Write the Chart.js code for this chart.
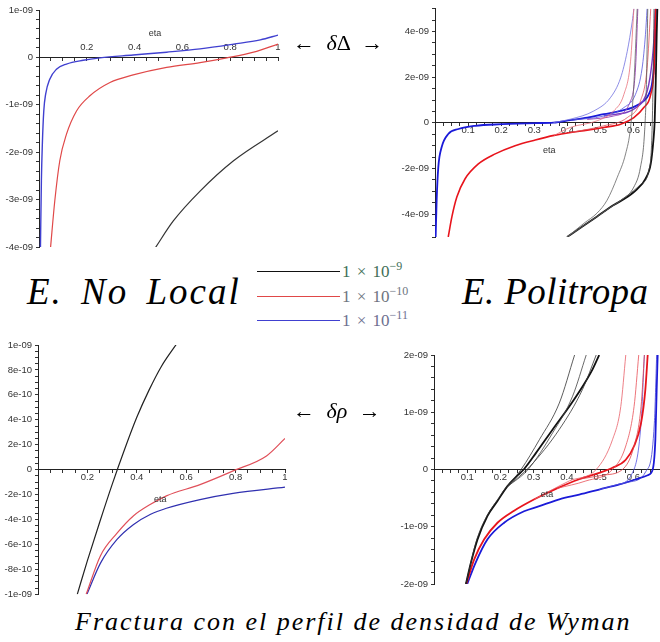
<!DOCTYPE html>
<html>
<head>
<meta charset="utf-8">
<script src="https://cdn.jsdelivr.net/npm/chart.js@4.4.1/dist/chart.umd.min.js"></script>
<style>
body { margin: 0; background: #fff; }
#page { position: relative; width: 660px; height: 642px; overflow: hidden; background: #fff; }
#page canvas { position: absolute; }
.txt { position: absolute; white-space: nowrap; line-height: 1; font-family: "Liberation Serif", "DejaVu Serif", serif; color: #000; }
.big { font-size: 37px; font-style: italic; }
.arrow { font-size: 22px; word-spacing: 6px; }
.leg { font-size: 17px; word-spacing: 2px; }
.leg sup { position: relative; top: -0.55em; font-size: 12px; vertical-align: baseline; }
.swatch { position: absolute; height: 0; }
</style>
</head>
<body>
<div id="page">
  <canvas id="nlDelta" width="286" height="256" style="left:0;top:0"></canvas>
  <canvas id="polDelta" width="282" height="246" style="left:378px;top:0"></canvas>
  <canvas id="nlRho" width="290" height="268" style="left:0;top:335px"></canvas>
  <canvas id="polRho" width="282" height="248" style="left:378px;top:345px"></canvas>

  <div class="txt arrow" style="left:293px;top:32px">&larr; <i>&delta;</i>&Delta; &rarr;</div>
  <div class="txt arrow" style="left:293px;top:400px">&larr; <i>&delta;&rho;</i> &rarr;</div>

  <div class="txt big" style="left:27px;top:273px;letter-spacing:2px;word-spacing:7px">E. No Local</div>
  <div class="txt big" style="left:462px;top:273px;letter-spacing:0.4px">E. Politropa</div>

  <div class="swatch" style="left:257px;top:271px;width:83px;border-top:1px solid #111"></div>
  <div class="swatch" style="left:257px;top:296px;width:83px;border-top:1.5px solid #e04848"></div>
  <div class="swatch" style="left:257px;top:320px;width:83px;border-top:1.5px solid #4040d0"></div>
  <div class="txt leg" style="left:342px;top:263px;color:#3f6f58">1 &times; 10<sup>&minus;9</sup></div>
  <div class="txt leg" style="left:342px;top:288px;color:#6e7480">1 &times; 10<sup>&minus;10</sup></div>
  <div class="txt leg" style="left:342px;top:312px;color:#6e7090">1 &times; 10<sup>&minus;11</sup></div>

  <div class="txt" style="left:75px;top:609px;font-size:26px;font-style:italic;letter-spacing:2px">Fractura con el perfil de densidad de Wyman</div>
</div>
<script>
// all values in units of 1e-9, points are [eta, value]

// E. No Local, delta Delta
var nlDeltaBlack = [[0.485, -4.03], [0.562, -3.45], [0.674, -2.82], [0.814, -2.18], [1.0, -1.55]];
var nlDeltaRed = [[0.048, -4.03], [0.066, -3.03], [0.087, -2.18], [0.115, -1.62], [0.157, -1.13], [0.213, -0.81],
    [0.297, -0.53], [0.394, -0.37], [0.534, -0.21], [0.674, -0.11], [0.786, -0.01], [0.898, 0.11], [1.0, 0.28]];
var nlDeltaBlue = [[0.006, -4.03], [0.01, -2.6], [0.014, -1.83], [0.02, -1.13], [0.028, -0.77], [0.045, -0.46],
    [0.073, -0.25], [0.115, -0.14], [0.185, -0.06], [0.255, -0.01], [0.394, 0.05], [0.534, 0.11], [0.674, 0.18],
    [0.814, 0.28], [0.926, 0.37], [1.0, 0.47]];

// E. Politropa, delta Delta
var polDeltaBlack = [[0.399, -5.0], [0.44, -4.6], [0.49, -4.1], [0.54, -3.6], [0.581, -3.25], [0.611, -2.9],
    [0.636, -2.45], [0.652, -1.8], [0.66, -0.78], [0.664, 0.09], [0.667, 1.7], [0.67, 3.87], [0.672, 5.0]];
var polDeltaBlackThin1 = [[0.399, -5.0], [0.45, -4.4], [0.49, -3.95], [0.52, -3.39], [0.551, -2.38], [0.576, -1.36],
    [0.591, -0.2], [0.601, 1.68], [0.611, 5.0]];
var polDeltaBlackThin2 = [[0.399, -5.0], [0.47, -4.3], [0.53, -3.7], [0.561, -3.4], [0.601, -2.81], [0.621, -1.94],
    [0.633, -0.49], [0.639, 1.68], [0.643, 5.0]];
var polDeltaBlackThin3 = [[0.399, -5.0], [0.5, -4.0], [0.58, -3.2], [0.621, -2.7], [0.646, -2.1], [0.655, -0.78],
    [0.659, 1.68], [0.662, 5.0]];
var polDeltaRed = [[0.04, -5.0], [0.051, -4.12], [0.066, -3.25], [0.091, -2.45], [0.131, -1.8], [0.182, -1.36],
    [0.242, -1.0], [0.303, -0.75], [0.36, -0.55], [0.41, -0.42], [0.46, -0.32], [0.51, -0.2], [0.561, -0.06],
    [0.601, 0.23], [0.631, 0.67], [0.652, 1.25], [0.662, 2.4], [0.667, 5.0]];
var polDeltaRedThin1 = [[0.36, -0.55], [0.409, -0.2], [0.49, 0.09], [0.54, 0.52], [0.571, 1.25], [0.591, 2.7], [0.601, 5.0]];
var polDeltaRedThin2 = [[0.41, -0.42], [0.51, -0.13], [0.581, 0.23], [0.621, 0.96], [0.641, 2.4], [0.652, 5.0]];
var polDeltaBlue = [[0.002, -5.0], [0.005, -3.39], [0.01, -1.94], [0.02, -1.07], [0.04, -0.49], [0.071, -0.27],
    [0.121, -0.13], [0.202, -0.06], [0.303, -0.01], [0.358, 0.01], [0.409, 0.12], [0.46, 0.23], [0.51, 0.38],
    [0.561, 0.52], [0.601, 0.7], [0.631, 0.96], [0.646, 1.25], [0.657, 1.83], [0.664, 3.13], [0.667, 5.0]];
var polDeltaBlueThin1 = [[0.358, 0.01], [0.409, 0.16], [0.48, 0.52], [0.53, 1.1], [0.561, 1.97], [0.581, 3.13],
    [0.596, 4.43], [0.601, 5.0]];
var polDeltaBlueThin2 = [[0.409, 0.12], [0.51, 0.3], [0.571, 0.67], [0.606, 1.25], [0.626, 2.4], [0.636, 3.86], [0.641, 5.0]];
var polDeltaPurple1 = [[0.46, 0.15], [0.54, 0.3], [0.591, 0.96], [0.606, 2.4], [0.613, 5.0]];
var polDeltaPurple2 = [[0.51, 0.3], [0.621, 0.81], [0.646, 1.68], [0.659, 3.13], [0.667, 5.0]];

// E. No Local, delta rho
var nlRhoBlack = [[0.159, -1.0], [0.2, -0.73], [0.25, -0.42], [0.3, -0.12], [0.35, 0.16], [0.4, 0.42],
    [0.45, 0.64], [0.5, 0.83], [0.565, 1.02]];
var nlRhoRed = [[0.195, -1.0], [0.253, -0.69], [0.32, -0.51], [0.387, -0.37], [0.454, -0.28], [0.52, -0.21],
    [0.656, -0.12], [0.79, -0.01], [0.925, 0.11], [1.0, 0.25]];
var nlRhoBlue = [[0.198, -1.0], [0.253, -0.75], [0.32, -0.56], [0.387, -0.44], [0.454, -0.36], [0.52, -0.31],
    [0.656, -0.24], [0.79, -0.19], [1.0, -0.14]];

// E. Politropa, delta rho
var polRhoBlack = [[0.096, -2.0], [0.111, -1.63], [0.131, -1.22], [0.161, -0.81], [0.191, -0.55], [0.221, -0.29],
    [0.252, -0.1], [0.27, 0], [0.307, 0.29], [0.357, 0.7], [0.407, 1.1], [0.447, 1.45], [0.477, 1.75], [0.497, 2.0]];
var polRhoBlackThin1 = [[0.096, -2.0], [0.13, -1.2], [0.2, -0.45], [0.262, 0], [0.317, 0.52], [0.377, 1.16], [0.423, 2.0]];
var polRhoBlackThin2 = [[0.221, -0.3], [0.283, 0], [0.357, 0.64], [0.417, 1.28], [0.458, 2.0]];
var polRhoBlackThin3 = [[0.221, -0.3], [0.288, 0.05], [0.377, 0.7], [0.447, 1.4], [0.488, 2.0]];
var polRhoRed = [[0.097, -2.0], [0.121, -1.57], [0.151, -1.22], [0.191, -0.93], [0.241, -0.72], [0.302, -0.52],
    [0.37, -0.33], [0.437, -0.17], [0.497, -0.06], [0.537, 0.03], [0.577, 0.17], [0.602, 0.41], [0.623, 0.81],
    [0.636, 1.4], [0.643, 2.0]];
var polRhoRedThin1 = [[0.302, -0.52], [0.407, -0.2], [0.488, 0], [0.537, 0.52], [0.562, 1.1], [0.577, 2.0]];
var polRhoRedThin2 = [[0.37, -0.33], [0.457, -0.2], [0.537, 0], [0.577, 0.41], [0.602, 1.1], [0.616, 2.0]];
var polRhoRedThin3 = [[0.437, -0.17], [0.507, -0.1], [0.567, 0], [0.602, 0.41], [0.623, 1.1], [0.633, 2.0]];
var polRhoBlue = [[0.1, -2.0], [0.125, -1.63], [0.161, -1.22], [0.211, -0.93], [0.271, -0.73], [0.317, -0.64],
    [0.377, -0.52], [0.437, -0.44], [0.497, -0.35], [0.558, -0.26], [0.608, -0.17], [0.643, -0.1], [0.658, 0],
    [0.666, 0.52], [0.67, 1.4], [0.673, 2.0]];
var polRhoBlueThin1 = [[0.497, -0.35], [0.547, -0.27], [0.597, -0.06], [0.623, 0.81], [0.633, 2.0]];
var polRhoBlueThin2 = [[0.558, -0.26], [0.587, -0.22], [0.638, -0.03], [0.663, 0.81], [0.67, 2.0]];

function toXY(pairs) {
    return pairs.map(function (p) { return { x: p[0], y: p[1] }; });
}

function onStep(v, step) {
    var k = v / step;
    return Math.abs(k - Math.round(k)) < 1e-6;
}

// maple style: 1e-09, 8e-10, 0
function mapleLabel(v) {
    if (Math.abs(v) < 1e-9) return '0';
    return (v * 1e-9).toExponential(0).replace(/e-(\d)$/, 'e-0$1');
}

var etaLabel = {
    id: 'etaLabel',
    afterDraw: function (chart, args, opts) {
        var c = chart.ctx;
        c.save();
        c.font = '9px "Liberation Sans", Arial, sans-serif';
        c.fillStyle = '#333';
        c.textAlign = 'center';
        c.textBaseline = 'middle';
        c.fillText('eta', chart.scales.x.getPixelForValue(opts.x), chart.scales.y.getPixelForValue(opts.y));
        c.restore();
    }
};

function line(data, color, width) {
    return {
        data: toXY(data),
        borderColor: color,
        borderWidth: width,
        pointRadius: 0,
        fill: false,
        cubicInterpolationMode: 'monotone'
    };
}

function createPanel(canvasId, cfg) {
    var tickFont = { size: 9.5, family: '"Liberation Sans", Arial, sans-serif' };
    new Chart(document.getElementById(canvasId).getContext('2d'), {
        type: 'line',
        data: { datasets: cfg.lines },
        options: {
            responsive: false,
            animation: false,
            events: [],
            layout: { padding: cfg.padding },
            plugins: {
                legend: { display: false },
                tooltip: { enabled: false },
                etaLabel: cfg.eta
            },
            scales: {
                x: {
                    type: 'linear',
                    min: 0,
                    max: cfg.xMax,
                    position: { y: 0 },
                    grid: { drawOnChartArea: false, tickLength: 3, color: '#333' },
                    border: { color: '#222', width: 1 },
                    ticks: {
                        stepSize: cfg.xMinor,
                        autoSkip: false,
                        maxRotation: 0,
                        mirror: cfg.labelsAbove,
                        padding: cfg.labelsAbove ? -7 : -1,
                        color: '#333',
                        font: tickFont,
                        callback: function (v) {
                            if (v === 0 || !onStep(v, cfg.xMajor)) return '';
                            return String(Math.round(v * 10) / 10);
                        }
                    }
                },
                y: {
                    type: 'linear',
                    min: cfg.yMin,
                    max: cfg.yMax,
                    position: 'left',
                    afterFit: function (scale) { scale.width = cfg.yAxisWidth; },
                    grid: { drawOnChartArea: false, tickLength: 3, color: '#333' },
                    border: { color: '#222', width: 1 },
                    ticks: {
                        stepSize: cfg.yMinor,
                        autoSkip: false,
                        padding: 3,
                        color: '#333',
                        font: tickFont,
                        callback: function (v) {
                            return onStep(v, cfg.yMajor) ? mapleLabel(v) : '';
                        }
                    }
                }
            }
        },
        plugins: [etaLabel]
    });
}

document.addEventListener('DOMContentLoaded', function () {
    createPanel('nlDelta', {
        xMax: 1, xMinor: 0.05, xMajor: 0.2, labelsAbove: true,
        yMin: -4, yMax: 1, yMinor: 0.2, yMajor: 1, yAxisWidth: 39,
        padding: { top: 10, bottom: 9, right: 8, left: 0 },
        eta: { x: 0.485, y: 0.5 },
        lines: [
            line(nlDeltaBlack, '#333', 1.2),
            line(nlDeltaRed, '#e04848', 1.2),
            line(nlDeltaBlue, '#4040d0', 1.4)
        ]
    });

    createPanel('polDelta', {
        xMax: 0.68, xMinor: 0.025, xMajor: 0.1, labelsAbove: false,
        yMin: -5, yMax: 5, yMinor: 0.5, yMajor: 2, yAxisWidth: 57,
        padding: { top: 7, bottom: 9, right: 0, left: 0 },
        eta: { x: 0.345, y: -1.2 },
        lines: [
            line(polDeltaBlackThin1, '#666', 0.8),
            line(polDeltaBlackThin2, '#555', 0.8),
            line(polDeltaBlackThin3, '#444', 0.8),
            line(polDeltaBlack, '#111', 1.8),
            line(polDeltaRedThin1, '#e8707a', 0.8),
            line(polDeltaRedThin2, '#e05058', 0.8),
            line(polDeltaRed, '#e8141c', 1.6),
            line(polDeltaBlueThin1, '#7070e0', 0.8),
            line(polDeltaBlueThin2, '#5555dd', 0.8),
            line(polDeltaPurple1, '#a050b8', 1),
            line(polDeltaPurple2, '#7a3cc0', 1.4),
            line(polDeltaBlue, '#1a1ad8', 1.8)
        ]
    });

    createPanel('nlRho', {
        xMax: 1, xMinor: 0.05, xMajor: 0.2, labelsAbove: false,
        yMin: -1, yMax: 1, yMinor: 0.05, yMajor: 0.2, yAxisWidth: 38,
        padding: { top: 10, bottom: 8, right: 5, left: 0 },
        eta: { x: 0.495, y: -0.24 },
        lines: [
            line(nlRhoBlack, '#222', 1.2),
            line(nlRhoRed, '#e0505a', 1.2),
            line(nlRhoBlue, '#3030b0', 1.2)
        ]
    });

    createPanel('polRho', {
        xMax: 0.68, xMinor: 0.025, xMajor: 0.1, labelsAbove: false,
        yMin: -2, yMax: 2, yMinor: 0.2, yMajor: 1, yAxisWidth: 56,
        padding: { top: 10, bottom: 9, right: 0, left: 0 },
        eta: { x: 0.34, y: -0.44 },
        lines: [
            line(polRhoBlackThin1, '#333', 0.8),
            line(polRhoBlackThin2, '#444', 0.8),
            line(polRhoBlackThin3, '#333', 0.8),
            line(polRhoBlack, '#111', 1.8),
            line(polRhoRedThin1, '#e86068', 0.8),
            line(polRhoRedThin2, '#e85058', 0.8),
            line(polRhoRedThin3, '#e04048', 0.8),
            line(polRhoRed, '#e8141c', 1.8),
            line(polRhoBlueThin1, '#5050e0', 0.8),
            line(polRhoBlueThin2, '#4040d8', 0.8),
            line(polRhoBlue, '#1a1ad8', 1.8)
        ]
    });
});
</script>
</body>
</html>
